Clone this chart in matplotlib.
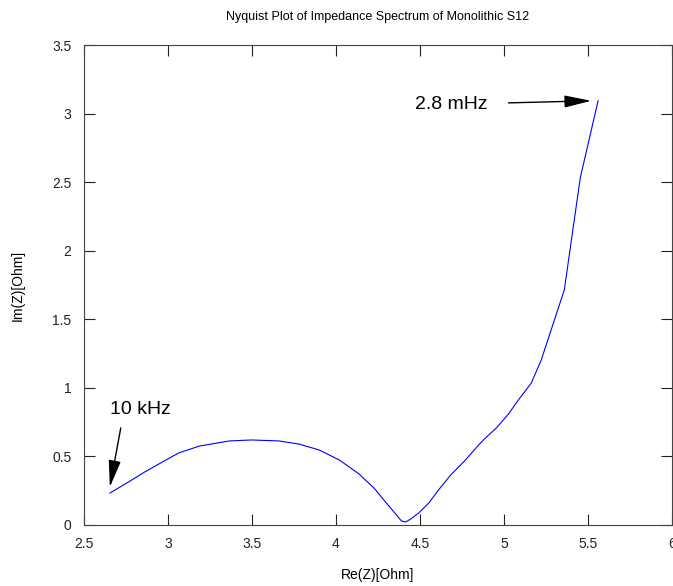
import matplotlib
matplotlib.use("Agg")
import matplotlib.pyplot as plt

plt.rcParams['font.family'] = ['Liberation Sans', 'DejaVu Sans']

# impedance spectrum (Re, Im in Ohm)
re_z = [2.654, 2.76, 2.862, 2.96, 3.063, 3.188, 3.366, 3.496, 3.66, 3.78,
        3.90, 4.02, 4.137, 4.226, 4.285, 4.345, 4.39, 4.415, 4.445, 4.493,
        4.552, 4.61, 4.683, 4.76, 4.849, 4.89, 4.955, 5.027, 5.086, 5.163,
        5.222, 5.359, 5.454, 5.560]
im_z = [0.233, 0.31, 0.387, 0.455, 0.525, 0.576, 0.613, 0.62, 0.613, 0.59,
        0.547, 0.474, 0.372, 0.27, 0.182, 0.095, 0.029, 0.022, 0.044, 0.088,
        0.16, 0.255, 0.365, 0.46, 0.583, 0.635, 0.708, 0.81, 0.912, 1.036,
        1.204, 1.714, 2.531, 3.093]

fig = plt.figure(figsize=(6.73, 5.86), dpi=100)
ax = fig.add_axes([0.1248, 0.1041, 0.8737, 0.8191])

ax.plot(re_z, im_z, color='blue', linewidth=0.8)

ax.set_xlim(2.5, 6)
ax.set_ylim(0, 3.5)
ax.set_xticks([2.5, 3, 3.5, 4, 4.5, 5, 5.5, 6])
ax.set_xticklabels(['2.5', '3', '3.5', '4', '4.5', '5', '5.5', '6'])
ax.set_yticks([0, 0.5, 1, 1.5, 2, 2.5, 3, 3.5])
ax.set_yticklabels(['0', '0.5', '1', '1.5', '2', '2.5', '3', '3.5'])
ax.tick_params(direction='in', length=8, width=0.8, top=True, right=True,
               labelsize=10, colors='#222222', pad=9)
for s in ax.spines.values():
    s.set_color('#444444')
    s.set_linewidth(0.8)

ax.set_xlabel('Re(Z)[Ohm]', fontsize=10, labelpad=12)
ax.set_ylabel('Im(Z)[Ohm]', fontsize=10, labelpad=20)
ax.set_title('Nyquist Plot of Impedance Spectrum of Monolithic S12', fontsize=9, pad=18)

arrow = dict(arrowstyle='-|>,head_length=1.1,head_width=0.25', color='black',
             lw=1, mutation_scale=15, shrinkA=0, shrinkB=0)
ax.text(4.689, 3.063, '2.8 mHz', fontsize=14, ha='center', va='center')
ax.annotate('', xy=(5.519, 3.093), xytext=(5.027, 3.078), arrowprops=arrow)
ax.text(2.838, 0.839, '10 kHz', fontsize=14, ha='center', va='center')
ax.annotate('', xy=(2.654, 0.277), xytext=(2.719, 0.708), arrowprops=arrow)

fig.savefig('out.png', dpi=100)
